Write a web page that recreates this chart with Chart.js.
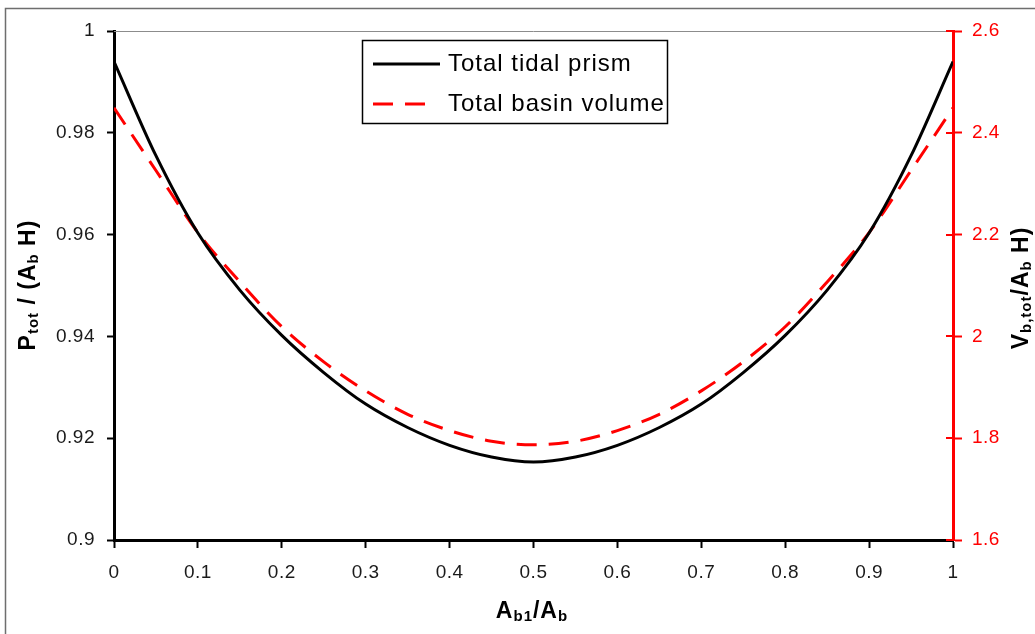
<!DOCTYPE html>
<html><head><meta charset="utf-8">
<script src="https://cdn.jsdelivr.net/npm/chart.js@4/dist/chart.umd.min.js"></script>
<style>html,body{margin:0;padding:0;background:#fff;}#wrap{width:1035px;height:634px;position:relative}</style>
</head><body><div id="wrap"><canvas id="c" width="1035" height="634"></canvas></div>
<script>
// ---- data ----
const xValues = [0, 0.05, 0.1, 0.15, 0.2, 0.25, 0.3, 0.35, 0.4, 0.45, 0.5, 0.55, 0.6, 0.65, 0.7, 0.75, 0.8, 0.85, 0.9, 0.95, 1];
const tidalPrism = [0.994, 0.9755, 0.9603, 0.9491, 0.9402, 0.9329, 0.9267, 0.9221, 0.9186, 0.9163, 0.9153, 0.9163, 0.9186, 0.9221, 0.9267, 0.9329, 0.9402, 0.9491, 0.9603, 0.9755, 0.994];
const basinVolume = [2.449, 2.326, 2.204, 2.107, 2.019, 1.950, 1.893, 1.847, 1.815, 1.794, 1.787, 1.794, 1.815, 1.847, 1.893, 1.950, 2.019, 2.107, 2.204, 2.326, 2.449];
const seriesNames = ['Total tidal prism', 'Total basin volume'];
const xTickLabels = ['0', '0.1', '0.2', '0.3', '0.4', '0.5', '0.6', '0.7', '0.8', '0.9', '1'];
const leftTickLabels = ['0.9', '0.92', '0.94', '0.96', '0.98', '1'];
const rightTickLabels = ['1.6', '1.8', '2', '2.2', '2.4', '2.6'];

const FONT = '"Liberation Sans", Arial, sans-serif';

function drawRich(ctx, segs, cx, cy, rotate) {
  ctx.save();
  ctx.translate(cx, cy);
  if (rotate) ctx.rotate(-Math.PI / 2);
  ctx.letterSpacing = '1px';
  ctx.textBaseline = 'alphabetic';
  ctx.textAlign = 'left';
  ctx.fillStyle = '#000';
  let w = 0;
  segs.forEach(s => { ctx.font = 'bold ' + s.size + 'px ' + FONT; w += ctx.measureText(s.t).width; });
  let x = -w / 2;
  segs.forEach(s => {
    ctx.font = 'bold ' + s.size + 'px ' + FONT;
    ctx.fillText(s.t, x, 8 + (s.dy || 0));
    x += ctx.measureText(s.t).width;
  });
  ctx.restore();
}

const decor = {
  id: 'decor',
  beforeDraw(chart) {
    const ctx = chart.ctx;
    ctx.save();
    ctx.fillStyle = '#fff';
    ctx.fillRect(0, 0, chart.width, chart.height);
    ctx.strokeStyle = '#6e6e6e';
    ctx.lineWidth = 1.5;
    ctx.strokeRect(5.5, 8.5, 1200, 800);
    ctx.restore();
    ctx.letterSpacing = '0.5px';
  },
  afterDraw(chart) {
    const ctx = chart.ctx;
    const a = chart.chartArea;
    ctx.save();
    // top frame line of plot area
    ctx.strokeStyle = '#8c8c8c';
    ctx.lineWidth = 1;
    ctx.beginPath();
    ctx.moveTo(a.left, a.top + 0.5);
    ctx.lineTo(a.right, a.top + 0.5);
    ctx.stroke();
    // inner half of right-axis cross ticks
    const r = chart.scales.y2;
    ctx.strokeStyle = '#ff0000';
    ctx.lineWidth = 2;
    r.ticks.forEach(t => {
      const py = Math.round(r.getPixelForValue(t.value));
      ctx.beginPath();
      ctx.moveTo(r.left - 7, py);
      ctx.lineTo(r.left, py);
      ctx.stroke();
    });
    // legend
    ctx.fillStyle = '#fff';
    ctx.fillRect(362, 40, 306, 84);
    ctx.strokeStyle = '#000';
    ctx.lineWidth = 1.5;
    ctx.strokeRect(362.5, 40.5, 305, 83);
    const ds = chart.data.datasets;
    const rows = [64, 104];
    const ends = [440, 430];
    ds.forEach((d, i) => {
      ctx.strokeStyle = d.borderColor;
      ctx.lineWidth = d.borderWidth;
      ctx.setLineDash(d.borderDash || []);
      ctx.beginPath();
      ctx.moveTo(373, rows[i]);
      ctx.lineTo(ends[i], rows[i]);
      ctx.stroke();
      ctx.setLineDash([]);
      ctx.fillStyle = '#000';
      ctx.font = '24px ' + FONT;
      ctx.letterSpacing = '1px';
      ctx.textBaseline = 'middle';
      ctx.textAlign = 'left';
      ctx.fillText(d.label, 448, rows[i]);
    });
    ctx.restore();
    // axis titles
    drawRich(ctx, [{t: 'A', size: 23}, {t: 'b1', size: 15, dy: 3}, {t: '/A', size: 23}, {t: 'b', size: 15, dy: 3}], 532, 610, false);
    drawRich(ctx, [{t: 'P', size: 23}, {t: 'tot', size: 15, dy: 3}, {t: ' / (A', size: 23}, {t: 'b', size: 15, dy: 3}, {t: ' H)', size: 23}], 27, 285, true);
    drawRich(ctx, [{t: 'V', size: 23}, {t: 'b,tot', size: 15, dy: 3}, {t: '/A', size: 23}, {t: 'b', size: 15, dy: 3}, {t: ' H)', size: 23}], 1020, 288, true);
  }
};

new Chart(document.getElementById('c'), {
  type: 'line',
  data: {
    datasets: [
      {
        label: seriesNames[0],
        data: xValues.map((x, i) => ({x: x, y: tidalPrism[i]})),
        borderColor: '#000000',
        borderWidth: 3,
        pointRadius: 0,
        cubicInterpolationMode: 'monotone',
        yAxisID: 'y',
        fill: false
      },
      {
        label: seriesNames[1],
        data: xValues.map((x, i) => ({x: x, y: basinVolume[i]})),
        borderColor: '#ff0000',
        borderWidth: 3,
        borderDash: [20, 12],
        pointRadius: 0,
        cubicInterpolationMode: 'monotone',
        yAxisID: 'y2',
        fill: false
      }
    ]
  },
  options: {
    responsive: false,
    animation: false,
    devicePixelRatio: 1,
    layout: {padding: {top: 31, left: 0, right: 0, bottom: 0}},
    plugins: {legend: {display: false}, tooltip: {enabled: false}},
    scales: {
      x: {
        type: 'linear', position: 'bottom', min: 0, max: 1,
        afterFit(s) { s.height = 94; },
        grid: {drawOnChartArea: false, drawTicks: true, tickLength: 8, tickWidth: 2, tickColor: '#000'},
        border: {display: true, color: '#000', width: 3},
        ticks: {stepSize: 0.1, padding: 13, color: '#1a1a1a', font: {family: FONT, size: 19}, maxRotation: 0,
          callback: (v, i) => xTickLabels[i]}
      },
      y: {
        type: 'linear', position: 'left', min: 0.9, max: 1,
        afterFit(s) { s.width = 114; },
        grid: {drawOnChartArea: false, drawTicks: true, tickLength: 7, tickWidth: 2, tickColor: '#000'},
        border: {display: true, color: '#000', width: 3},
        ticks: {stepSize: 0.02, padding: 12, color: '#1a1a1a', font: {family: FONT, size: 19},
          callback: (v, i) => leftTickLabels[i]}
      },
      y2: {
        type: 'linear', position: 'right', min: 1.6, max: 2.6,
        afterFit(s) { s.width = 82; },
        grid: {drawOnChartArea: false, drawTicks: true, tickLength: 9, tickWidth: 2, tickColor: '#ff0000'},
        border: {display: true, color: '#ff0000', width: 3},
        ticks: {stepSize: 0.2, padding: 10, color: '#ff0000', font: {family: FONT, size: 19},
          callback: (v, i) => rightTickLabels[i]}
      }
    }
  },
  plugins: [decor]
});
</script>
</body></html>
